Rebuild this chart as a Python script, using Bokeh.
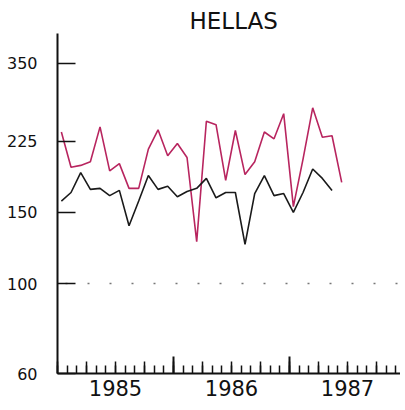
import numpy as np
from bokeh.plotting import figure
from bokeh.models import FixedTicker, Range1d
from bokeh.embed import file_html
from bokeh.resources import INLINE

# ---- data ----
title_text = "HELLAS"
years = [1985, 1986, 1987]
year_labels = ["1985", "1986", "1987"]
y_ticks = [60, 100, 150, 225, 350]
reference_level = 100

red_months = [f"{1985 + i // 12}-{i % 12 + 1:02d}" for i in range(30)]
red_values = [237, 194, 196, 200, 244, 190, 198, 172, 172, 215,
              240, 207, 222, 205, 127, 252, 247, 180, 239, 186,
              200, 237, 228, 263, 155, 203, 272, 230, 232, 178]

black_months = [f"{1985 + i // 12}-{i % 12 + 1:02d}" for i in range(29)]
black_values = [160, 168, 188, 171, 172, 165, 170, 139, 160, 185,
                171, 174, 164, 169, 172, 182, 163, 168, 168, 125,
                167, 185, 165, 167, 150, 168, 192, 182, 170]


def month_to_x(m, within=0.4):
    y, mo = m.split("-")
    return int(y) + (int(mo) - 1 + within) / 12.0


x_red = [month_to_x(m) for m in red_months]
x_black = [month_to_x(m) for m in black_months]

# ---- figure ----
W, H = 400, 405
left, top, bottom = 57, 33, 32
px_per_year = 116
p = figure(width=W, height=H, y_axis_type="log",
           x_range=Range1d(years[0], years[0] + (W - left) / px_per_year),
           y_range=Range1d(60, 415),
           output_backend="svg", toolbar_location=None,
           min_border_left=left, min_border_right=0,
           min_border_top=top, min_border_bottom=bottom,
           title=title_text)
p.outline_line_color = None
p.background_fill_color = "white"
p.border_fill_color = "white"

p.title.align = "left"
p.title.offset = 132
p.title.text_font = "DejaVu Sans"
p.title.text_font_size = "23px"
p.title.text_font_style = "normal"
p.title.text_color = "#111111"
p.title.standoff = 0

# y axis
ya = p.yaxis[0]
ya.ticker = FixedTicker(ticks=y_ticks, minor_ticks=[])
ya.major_tick_in = 18
ya.major_tick_out = 0
ya.minor_tick_in = 0
ya.minor_tick_out = 0
ya.major_tick_line_width = 1.5
ya.axis_line_width = 2
ya.axis_line_color = "#111111"
ya.major_tick_line_color = "#111111"
ya.major_label_standoff = 20
ya.major_label_text_font = "DejaVu Sans"
ya.major_label_text_font_size = "16px"
ya.major_label_text_color = "#111111"
ya.major_label_overrides = {t: str(t) for t in y_ticks}

# x axis: quarters as major ticks, months as minor, labels at mid-year
quarters = [y + q * 0.25 for y in years for q in range(4)] + [years[-1] + 1]
months = [y + m / 12 for y in years for m in range(12)]
xa = p.xaxis[0]
xa.ticker = FixedTicker(ticks=quarters, minor_ticks=months)
xa.major_tick_in = 12
xa.major_tick_out = 0
xa.minor_tick_in = 8
xa.minor_tick_out = 0
xa.major_tick_line_width = 1.5
xa.minor_tick_line_width = 1.5
xa.axis_line_width = 2
xa.axis_line_color = "#111111"
xa.major_tick_line_color = "#111111"
xa.minor_tick_line_color = "#111111"
overrides = {q: "" for q in quarters}
for y, lab in zip(years, year_labels):
    overrides[y + 0.5] = lab
xa.major_label_overrides = overrides
xa.major_label_standoff = 6
xa.major_label_text_font = "DejaVu Sans"
xa.major_label_text_font_size = "21px"
xa.major_label_text_color = "#111111"

# year boundary ticks (taller)
p.segment(x0=years[1:], y0=60, x1=years[1:], y1=60 * 10 ** (17 / 405),
          line_color="#111111", line_width=2)

# grid: only the dotted reference line
p.xgrid.visible = False
p.ygrid.ticker = FixedTicker(ticks=[reference_level])
p.ygrid.grid_line_dash = "2 20"
p.ygrid.grid_line_dash_offset = -8
p.ygrid.grid_line_color = "#777777"
p.ygrid.grid_line_width = 1.5

p.line(x_red, red_values, line_color="#B8255F", line_width=1.6)
p.line(x_black, black_values, line_color="#1a1a1a", line_width=1.6)

open("out.html", "w").write(file_html(p, INLINE))
